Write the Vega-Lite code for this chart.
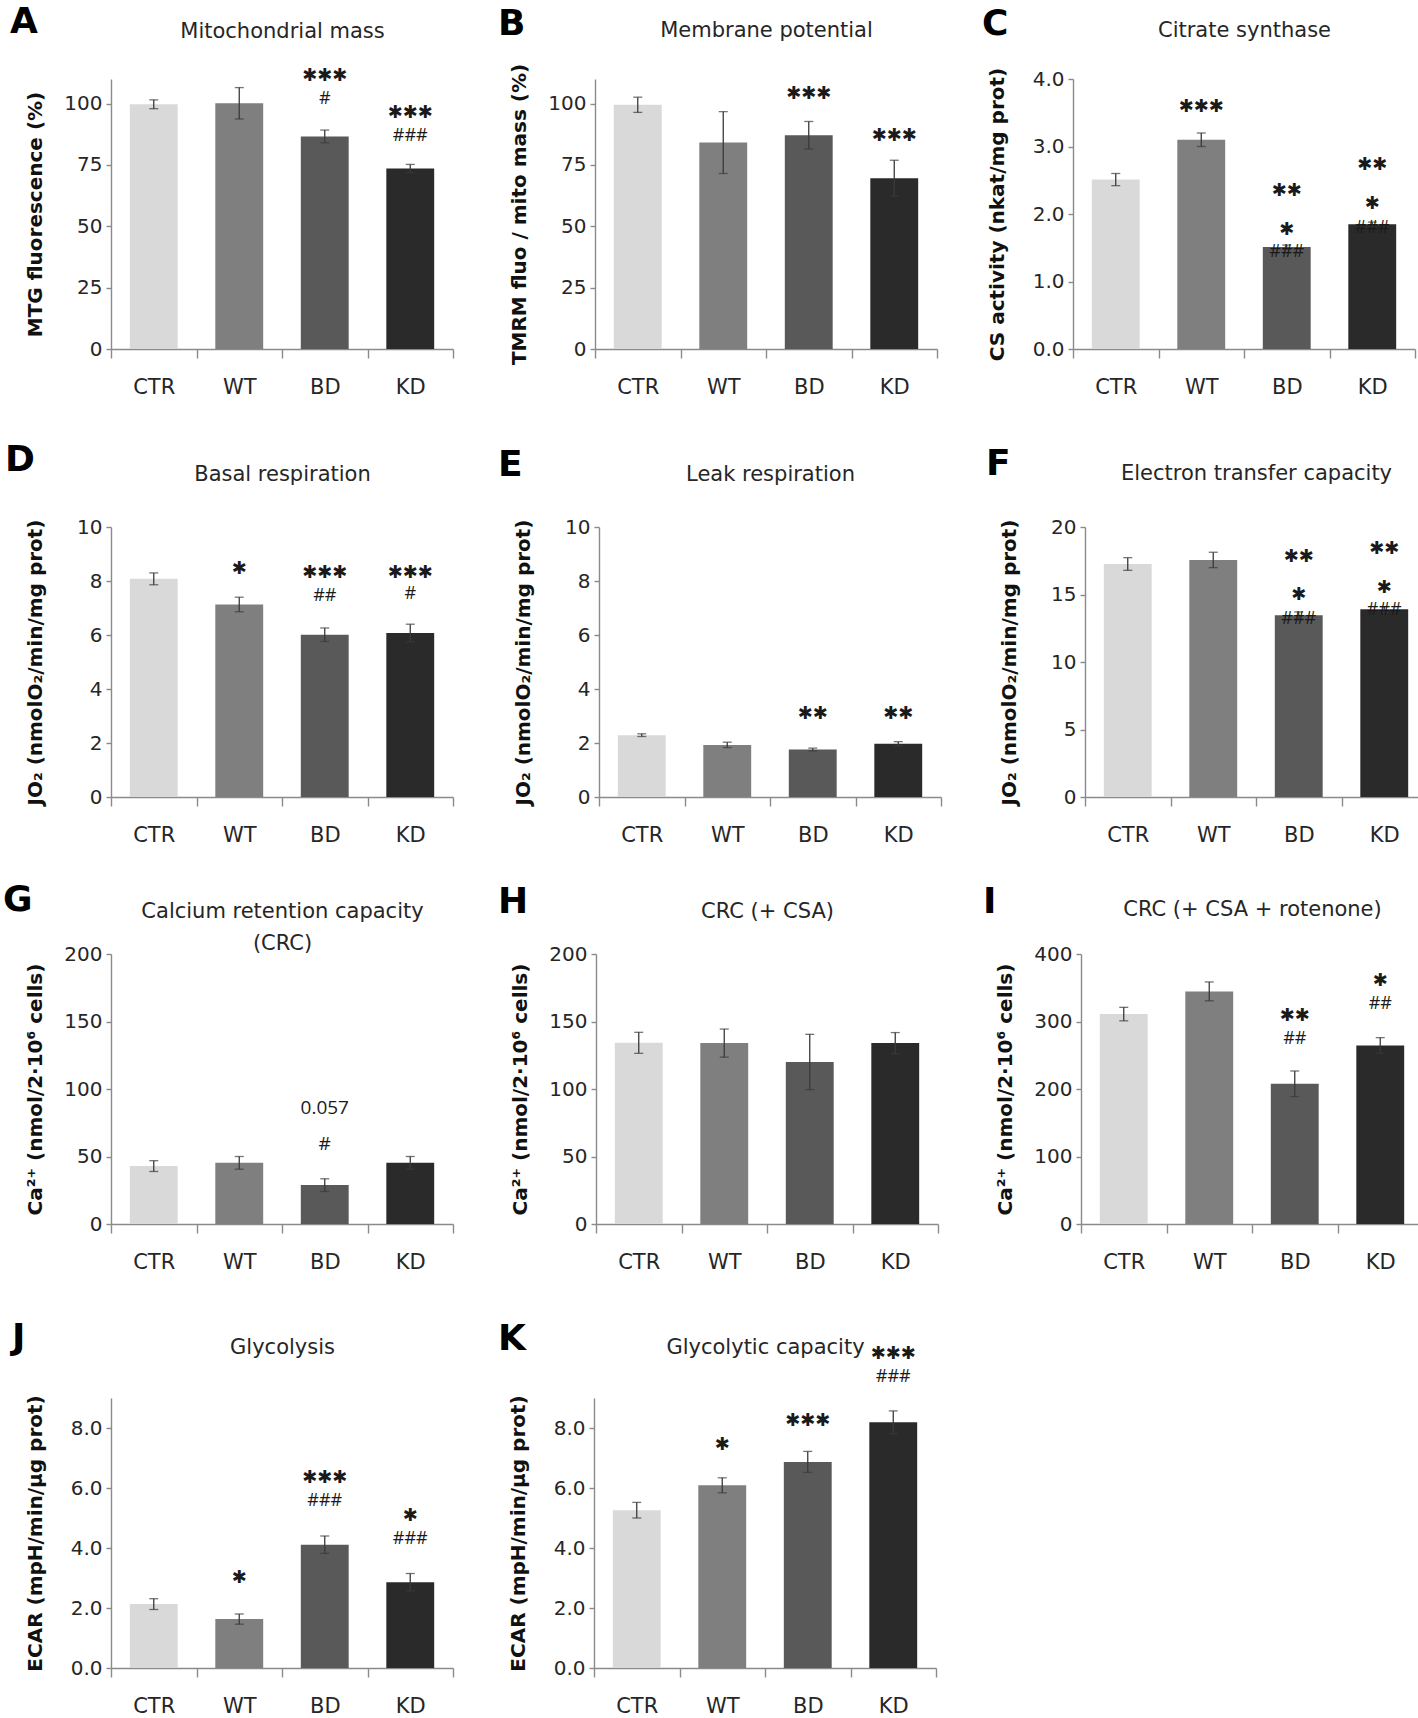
{
"$schema": "https://vega.github.io/schema/vega-lite/v6.json",
"background": "white",
"padding": {"left": 2, "top": 4, "right": 0, "bottom": 0},
"datasets": {
"bars": [
{"p":"A","g":"CTR","mean":99.7,"err":1.8},{"p":"A","g":"WT","mean":100.1,"err":6.4},{"p":"A","g":"BD","mean":86.6,"err":2.6},{"p":"A","g":"KD","mean":73.5,"err":1.7},
{"p":"B","g":"CTR","mean":99.5,"err":3.1},{"p":"B","g":"WT","mean":84.1,"err":12.6},{"p":"B","g":"BD","mean":87.1,"err":5.6},{"p":"B","g":"KD","mean":69.6,"err":7.3},
{"p":"C","g":"CTR","mean":2.51,"err":0.09},{"p":"C","g":"WT","mean":3.1,"err":0.1},{"p":"C","g":"BD","mean":1.51,"err":0.03},{"p":"C","g":"KD","mean":1.85,"err":0.03},
{"p":"D","g":"CTR","mean":8.08,"err":0.22},{"p":"D","g":"WT","mean":7.13,"err":0.27},{"p":"D","g":"BD","mean":6.01,"err":0.25},{"p":"D","g":"KD","mean":6.07,"err":0.33},
{"p":"E","g":"CTR","mean":2.29,"err":0.05},{"p":"E","g":"WT","mean":1.93,"err":0.1},{"p":"E","g":"BD","mean":1.76,"err":0.05},{"p":"E","g":"KD","mean":1.97,"err":0.08},
{"p":"F","g":"CTR","mean":17.26,"err":0.47},{"p":"F","g":"WT","mean":17.56,"err":0.57},{"p":"F","g":"BD","mean":13.46,"err":0.25},{"p":"F","g":"KD","mean":13.9,"err":0.2},
{"p":"G","g":"CTR","mean":42.9,"err":4},{"p":"G","g":"WT","mean":45.3,"err":4.7},{"p":"G","g":"BD","mean":28.8,"err":4.7},{"p":"G","g":"KD","mean":45.3,"err":4.7},
{"p":"H","g":"CTR","mean":134.2,"err":7.8},{"p":"H","g":"WT","mean":134,"err":10.4},{"p":"H","g":"BD","mean":120,"err":20.5},{"p":"H","g":"KD","mean":134,"err":7.8},
{"p":"I","g":"CTR","mean":311,"err":10},{"p":"I","g":"WT","mean":344.6,"err":14},{"p":"I","g":"BD","mean":207.7,"err":19},{"p":"I","g":"KD","mean":264.5,"err":11.6},
{"p":"J","g":"CTR","mean":2.13,"err":0.18},{"p":"J","g":"WT","mean":1.63,"err":0.17},{"p":"J","g":"BD","mean":4.11,"err":0.29},{"p":"J","g":"KD","mean":2.86,"err":0.29},
{"p":"K","g":"CTR","mean":5.26,"err":0.26},{"p":"K","g":"WT","mean":6.09,"err":0.25},{"p":"K","g":"BD","mean":6.87,"err":0.35},{"p":"K","g":"KD","mean":8.19,"err":0.38}
],
"notes": [
{"p":"A","g":"BD","t":"✱✱✱","y":111.3},{"p":"A","g":"BD","t":"#","y":102},{"p":"A","g":"KD","t":"✱✱✱","y":96.3},{"p":"A","g":"KD","t":"###","y":86.8},
{"p":"B","g":"BD","t":"✱✱✱","y":103.8},{"p":"B","g":"KD","t":"✱✱✱","y":86.8},
{"p":"C","g":"WT","t":"✱✱✱","y":3.59},{"p":"C","g":"BD","t":"✱✱","y":2.34},{"p":"C","g":"BD","t":"✱","y":1.76},{"p":"C","g":"BD","t":"###","y":1.43},{"p":"C","g":"KD","t":"✱✱","y":2.73},{"p":"C","g":"KD","t":"✱","y":2.15},{"p":"C","g":"KD","t":"###","y":1.8},
{"p":"D","g":"WT","t":"✱","y":8.43},{"p":"D","g":"BD","t":"✱✱✱","y":8.3},{"p":"D","g":"BD","t":"##","y":7.43},{"p":"D","g":"KD","t":"✱✱✱","y":8.3},{"p":"D","g":"KD","t":"#","y":7.53},
{"p":"E","g":"BD","t":"✱✱","y":3.06},{"p":"E","g":"KD","t":"✱✱","y":3.06},
{"p":"F","g":"BD","t":"✱✱","y":17.78},{"p":"F","g":"BD","t":"✱","y":14.94},{"p":"F","g":"BD","t":"###","y":13.2},{"p":"F","g":"KD","t":"✱✱","y":18.35},{"p":"F","g":"KD","t":"✱","y":15.48},{"p":"F","g":"KD","t":"###","y":13.83},
{"p":"G","g":"BD","t":"0.057","y":86.2},{"p":"G","g":"BD","t":"#","y":59.6},
{"p":"I","g":"BD","t":"✱✱","y":307.5},{"p":"I","g":"BD","t":"##","y":274},{"p":"I","g":"KD","t":"✱","y":360.4},{"p":"I","g":"KD","t":"##","y":325.8},
{"p":"J","g":"WT","t":"✱","y":3.0},{"p":"J","g":"BD","t":"✱✱✱","y":6.33},{"p":"J","g":"BD","t":"###","y":5.56},{"p":"J","g":"KD","t":"✱","y":5.06},{"p":"J","g":"KD","t":"###","y":4.3},
{"p":"K","g":"WT","t":"✱","y":7.42},{"p":"K","g":"BD","t":"✱✱✱","y":8.24},{"p":"K","g":"KD","t":"✱✱✱","y":10.47},{"p":"K","g":"KD","t":"###","y":9.69}
]
},
"vconcat": [
{"vconcat": [
{"hconcat": [
{"title": {"text": "A", "dx": -15, "dy": 25}, "width": 342, "height": 270, "resolve": {"axis": {"x": "independent"}},
 "layer": [
  {"data": {"name": "bars"}, "transform": [{"filter": "datum.p === 'A'"}], "mark": {"type": "bar", "width": {"band": 0.56}},
   "encoding": {"x": {"field": "g", "type": "nominal", "sort": ["CTR","WT","BD","KD"], "scale": {"paddingInner": 0, "paddingOuter": 0}, "axis": {"orient": "bottom", "title": null}},
    "y": {"field": "mean", "type": "quantitative", "title": "MTG fluorescence (%)", "scale": {"domain": [0,110], "nice": false}, "axis": {"values": [0,25,50,75,100]}},
    "color": {"field": "g", "type": "nominal", "scale": {"domain": ["CTR","WT","BD","KD"], "range": ["#d9d9d9","#7f7f7f","#595959","#2a2a2a"]}, "legend": null}}},
  {"data": {"name": "bars"}, "transform": [{"filter": "datum.p === 'A'"}], "mark": {"type": "errorbar", "ticks": true, "size": 9, "thickness": 1.3, "color": "#3a3a3a"},
   "encoding": {"x": {"field": "g", "type": "nominal", "sort": ["CTR","WT","BD","KD"], "axis": null}, "y": {"field": "mean", "type": "quantitative", "title": "MTG fluorescence (%)", "scale": {"domain": [0,110], "nice": false}}, "yError": {"field": "err"}}},
  {"data": {"name": "bars"}, "transform": [{"filter": "datum.p === 'A'"}], "mark": {"type": "tick", "opacity": 0},
   "encoding": {"x": {"field": "g", "type": "nominal", "sort": ["CTR","WT","BD","KD"], "axis": {"orient": "top", "title": "Mitochondrial mass", "titleY": -42}}, "y": {"field": "mean", "type": "quantitative", "title": "MTG fluorescence (%)", "scale": {"domain": [0,110], "nice": false}}}},
  {"data": {"name": "notes"}, "transform": [{"filter": "datum.p === 'A' && indexof(datum.t, '✱') >= 0"}], "mark": {"type": "text", "font": "DejaVu Sans", "fontSize": 18, "baseline": "middle", "color": "#1a1a1a"},
   "encoding": {"x": {"field": "g", "type": "nominal", "sort": ["CTR","WT","BD","KD"], "axis": null}, "y": {"field": "y", "type": "quantitative", "title": "MTG fluorescence (%)", "scale": {"domain": [0,110], "nice": false}}, "text": {"field": "t"}}},
  {"data": {"name": "notes"}, "transform": [{"filter": "datum.p === 'A' && indexof(datum.t, '✱') < 0"}], "mark": {"type": "text", "font": "Open Sans", "fontSize": 18, "baseline": "middle", "color": "#1a1a1a"},
   "encoding": {"x": {"field": "g", "type": "nominal", "sort": ["CTR","WT","BD","KD"], "axis": null}, "y": {"field": "y", "type": "quantitative", "title": "MTG fluorescence (%)", "scale": {"domain": [0,110], "nice": false}}, "text": {"field": "t"}}}
 ]},
{"title": {"text": "B", "dx": -11, "dy": 28}, "width": 342, "height": 270, "resolve": {"axis": {"x": "independent"}},
 "layer": [
  {"data": {"name": "bars"}, "transform": [{"filter": "datum.p === 'B'"}], "mark": {"type": "bar", "width": {"band": 0.56}},
   "encoding": {"x": {"field": "g", "type": "nominal", "sort": ["CTR","WT","BD","KD"], "scale": {"paddingInner": 0, "paddingOuter": 0}, "axis": {"orient": "bottom", "title": null}},
    "y": {"field": "mean", "type": "quantitative", "title": "TMRM fluo / mito mass (%)", "scale": {"domain": [0,110], "nice": false}, "axis": {"values": [0,25,50,75,100]}},
    "color": {"field": "g", "type": "nominal", "scale": {"domain": ["CTR","WT","BD","KD"], "range": ["#d9d9d9","#7f7f7f","#595959","#2a2a2a"]}, "legend": null}}},
  {"data": {"name": "bars"}, "transform": [{"filter": "datum.p === 'B'"}], "mark": {"type": "errorbar", "ticks": true, "size": 9, "thickness": 1.3, "color": "#3a3a3a"},
   "encoding": {"x": {"field": "g", "type": "nominal", "sort": ["CTR","WT","BD","KD"], "axis": null}, "y": {"field": "mean", "type": "quantitative", "title": "TMRM fluo / mito mass (%)", "scale": {"domain": [0,110], "nice": false}}, "yError": {"field": "err"}}},
  {"data": {"name": "bars"}, "transform": [{"filter": "datum.p === 'B'"}], "mark": {"type": "tick", "opacity": 0},
   "encoding": {"x": {"field": "g", "type": "nominal", "sort": ["CTR","WT","BD","KD"], "axis": {"orient": "top", "title": "Membrane potential", "titleY": -43}}, "y": {"field": "mean", "type": "quantitative", "title": "TMRM fluo / mito mass (%)", "scale": {"domain": [0,110], "nice": false}}}},
  {"data": {"name": "notes"}, "transform": [{"filter": "datum.p === 'B' && indexof(datum.t, '✱') >= 0"}], "mark": {"type": "text", "font": "DejaVu Sans", "fontSize": 18, "baseline": "middle", "color": "#1a1a1a"},
   "encoding": {"x": {"field": "g", "type": "nominal", "sort": ["CTR","WT","BD","KD"], "axis": null}, "y": {"field": "y", "type": "quantitative", "title": "TMRM fluo / mito mass (%)", "scale": {"domain": [0,110], "nice": false}}, "text": {"field": "t"}}},
  {"data": {"name": "notes"}, "transform": [{"filter": "datum.p === 'B' && indexof(datum.t, '✱') < 0"}], "mark": {"type": "text", "font": "Open Sans", "fontSize": 18, "baseline": "middle", "color": "#1a1a1a"},
   "encoding": {"x": {"field": "g", "type": "nominal", "sort": ["CTR","WT","BD","KD"], "axis": null}, "y": {"field": "y", "type": "quantitative", "title": "TMRM fluo / mito mass (%)", "scale": {"domain": [0,110], "nice": false}}, "text": {"field": "t"}}}
 ]},
{"title": {"text": "C", "dx": -5, "dy": 28}, "width": 342, "height": 270, "resolve": {"axis": {"x": "independent"}},
 "layer": [
  {"data": {"name": "bars"}, "transform": [{"filter": "datum.p === 'C'"}], "mark": {"type": "bar", "width": {"band": 0.56}},
   "encoding": {"x": {"field": "g", "type": "nominal", "sort": ["CTR","WT","BD","KD"], "scale": {"paddingInner": 0, "paddingOuter": 0}, "axis": {"orient": "bottom", "title": null}},
    "y": {"field": "mean", "type": "quantitative", "title": "CS activity (nkat/mg prot)", "scale": {"domain": [0,4], "nice": false}, "axis": {"values": [0,1,2,3,4], "format": ".1f"}},
    "color": {"field": "g", "type": "nominal", "scale": {"domain": ["CTR","WT","BD","KD"], "range": ["#d9d9d9","#7f7f7f","#595959","#2a2a2a"]}, "legend": null}}},
  {"data": {"name": "bars"}, "transform": [{"filter": "datum.p === 'C'"}], "mark": {"type": "errorbar", "ticks": true, "size": 9, "thickness": 1.3, "color": "#3a3a3a"},
   "encoding": {"x": {"field": "g", "type": "nominal", "sort": ["CTR","WT","BD","KD"], "axis": null}, "y": {"field": "mean", "type": "quantitative", "title": "CS activity (nkat/mg prot)", "scale": {"domain": [0,4], "nice": false}}, "yError": {"field": "err"}}},
  {"data": {"name": "bars"}, "transform": [{"filter": "datum.p === 'C'"}], "mark": {"type": "tick", "opacity": 0},
   "encoding": {"x": {"field": "g", "type": "nominal", "sort": ["CTR","WT","BD","KD"], "axis": {"orient": "top", "title": "Citrate synthase", "titleY": -43}}, "y": {"field": "mean", "type": "quantitative", "title": "CS activity (nkat/mg prot)", "scale": {"domain": [0,4], "nice": false}}}},
  {"data": {"name": "notes"}, "transform": [{"filter": "datum.p === 'C' && indexof(datum.t, '✱') >= 0"}], "mark": {"type": "text", "font": "DejaVu Sans", "fontSize": 18, "baseline": "middle", "color": "#1a1a1a"},
   "encoding": {"x": {"field": "g", "type": "nominal", "sort": ["CTR","WT","BD","KD"], "axis": null}, "y": {"field": "y", "type": "quantitative", "title": "CS activity (nkat/mg prot)", "scale": {"domain": [0,4], "nice": false}}, "text": {"field": "t"}}},
  {"data": {"name": "notes"}, "transform": [{"filter": "datum.p === 'C' && indexof(datum.t, '✱') < 0"}], "mark": {"type": "text", "font": "Open Sans", "fontSize": 18, "baseline": "middle", "color": "#1a1a1a"},
   "encoding": {"x": {"field": "g", "type": "nominal", "sort": ["CTR","WT","BD","KD"], "axis": null}, "y": {"field": "y", "type": "quantitative", "title": "CS activity (nkat/mg prot)", "scale": {"domain": [0,4], "nice": false}}, "text": {"field": "t"}}}
 ]}
], "spacing": 43},
{"hconcat": [
{"title": {"text": "D", "dx": -20, "dy": 20}, "width": 342, "height": 270, "resolve": {"axis": {"x": "independent"}},
 "layer": [
  {"data": {"name": "bars"}, "transform": [{"filter": "datum.p === 'D'"}], "mark": {"type": "bar", "width": {"band": 0.56}},
   "encoding": {"x": {"field": "g", "type": "nominal", "sort": ["CTR","WT","BD","KD"], "scale": {"paddingInner": 0, "paddingOuter": 0}, "axis": {"orient": "bottom", "title": null}},
    "y": {"field": "mean", "type": "quantitative", "title": "JO₂ (nmolO₂/min/mg prot)", "scale": {"domain": [0,10], "nice": false}, "axis": {"values": [0,2,4,6,8,10]}},
    "color": {"field": "g", "type": "nominal", "scale": {"domain": ["CTR","WT","BD","KD"], "range": ["#d9d9d9","#7f7f7f","#595959","#2a2a2a"]}, "legend": null}}},
  {"data": {"name": "bars"}, "transform": [{"filter": "datum.p === 'D'"}], "mark": {"type": "errorbar", "ticks": true, "size": 9, "thickness": 1.3, "color": "#3a3a3a"},
   "encoding": {"x": {"field": "g", "type": "nominal", "sort": ["CTR","WT","BD","KD"], "axis": null}, "y": {"field": "mean", "type": "quantitative", "title": "JO₂ (nmolO₂/min/mg prot)", "scale": {"domain": [0,10], "nice": false}}, "yError": {"field": "err"}}},
  {"data": {"name": "bars"}, "transform": [{"filter": "datum.p === 'D'"}], "mark": {"type": "tick", "opacity": 0},
   "encoding": {"x": {"field": "g", "type": "nominal", "sort": ["CTR","WT","BD","KD"], "axis": {"orient": "top", "title": "Basal respiration", "titleY": -47}}, "y": {"field": "mean", "type": "quantitative", "title": "JO₂ (nmolO₂/min/mg prot)", "scale": {"domain": [0,10], "nice": false}}}},
  {"data": {"name": "notes"}, "transform": [{"filter": "datum.p === 'D' && indexof(datum.t, '✱') >= 0"}], "mark": {"type": "text", "font": "DejaVu Sans", "fontSize": 18, "baseline": "middle", "color": "#1a1a1a"},
   "encoding": {"x": {"field": "g", "type": "nominal", "sort": ["CTR","WT","BD","KD"], "axis": null}, "y": {"field": "y", "type": "quantitative", "title": "JO₂ (nmolO₂/min/mg prot)", "scale": {"domain": [0,10], "nice": false}}, "text": {"field": "t"}}},
  {"data": {"name": "notes"}, "transform": [{"filter": "datum.p === 'D' && indexof(datum.t, '✱') < 0"}], "mark": {"type": "text", "font": "Open Sans", "fontSize": 18, "baseline": "middle", "color": "#1a1a1a"},
   "encoding": {"x": {"field": "g", "type": "nominal", "sort": ["CTR","WT","BD","KD"], "axis": null}, "y": {"field": "y", "type": "quantitative", "title": "JO₂ (nmolO₂/min/mg prot)", "scale": {"domain": [0,10], "nice": false}}, "text": {"field": "t"}}}
 ]},
{"title": {"text": "E", "dx": -15, "dy": 25}, "width": 342, "height": 270, "resolve": {"axis": {"x": "independent"}},
 "layer": [
  {"data": {"name": "bars"}, "transform": [{"filter": "datum.p === 'E'"}], "mark": {"type": "bar", "width": {"band": 0.56}},
   "encoding": {"x": {"field": "g", "type": "nominal", "sort": ["CTR","WT","BD","KD"], "scale": {"paddingInner": 0, "paddingOuter": 0}, "axis": {"orient": "bottom", "title": null}},
    "y": {"field": "mean", "type": "quantitative", "title": "JO₂ (nmolO₂/min/mg prot)", "scale": {"domain": [0,10], "nice": false}, "axis": {"values": [0,2,4,6,8,10]}},
    "color": {"field": "g", "type": "nominal", "scale": {"domain": ["CTR","WT","BD","KD"], "range": ["#d9d9d9","#7f7f7f","#595959","#2a2a2a"]}, "legend": null}}},
  {"data": {"name": "bars"}, "transform": [{"filter": "datum.p === 'E'"}], "mark": {"type": "errorbar", "ticks": true, "size": 9, "thickness": 1.3, "color": "#3a3a3a"},
   "encoding": {"x": {"field": "g", "type": "nominal", "sort": ["CTR","WT","BD","KD"], "axis": null}, "y": {"field": "mean", "type": "quantitative", "title": "JO₂ (nmolO₂/min/mg prot)", "scale": {"domain": [0,10], "nice": false}}, "yError": {"field": "err"}}},
  {"data": {"name": "bars"}, "transform": [{"filter": "datum.p === 'E'"}], "mark": {"type": "tick", "opacity": 0},
   "encoding": {"x": {"field": "g", "type": "nominal", "sort": ["CTR","WT","BD","KD"], "axis": {"orient": "top", "title": "Leak respiration", "titleY": -47}}, "y": {"field": "mean", "type": "quantitative", "title": "JO₂ (nmolO₂/min/mg prot)", "scale": {"domain": [0,10], "nice": false}}}},
  {"data": {"name": "notes"}, "transform": [{"filter": "datum.p === 'E' && indexof(datum.t, '✱') >= 0"}], "mark": {"type": "text", "font": "DejaVu Sans", "fontSize": 18, "baseline": "middle", "color": "#1a1a1a"},
   "encoding": {"x": {"field": "g", "type": "nominal", "sort": ["CTR","WT","BD","KD"], "axis": null}, "y": {"field": "y", "type": "quantitative", "title": "JO₂ (nmolO₂/min/mg prot)", "scale": {"domain": [0,10], "nice": false}}, "text": {"field": "t"}}},
  {"data": {"name": "notes"}, "transform": [{"filter": "datum.p === 'E' && indexof(datum.t, '✱') < 0"}], "mark": {"type": "text", "font": "Open Sans", "fontSize": 18, "baseline": "middle", "color": "#1a1a1a"},
   "encoding": {"x": {"field": "g", "type": "nominal", "sort": ["CTR","WT","BD","KD"], "axis": null}, "y": {"field": "y", "type": "quantitative", "title": "JO₂ (nmolO₂/min/mg prot)", "scale": {"domain": [0,10], "nice": false}}, "text": {"field": "t"}}}
 ]},
{"title": {"text": "F", "dx": -13, "dy": 25}, "width": 342, "height": 270, "resolve": {"axis": {"x": "independent"}},
 "layer": [
  {"data": {"name": "bars"}, "transform": [{"filter": "datum.p === 'F'"}], "mark": {"type": "bar", "width": {"band": 0.56}},
   "encoding": {"x": {"field": "g", "type": "nominal", "sort": ["CTR","WT","BD","KD"], "scale": {"paddingInner": 0, "paddingOuter": 0}, "axis": {"orient": "bottom", "title": null}},
    "y": {"field": "mean", "type": "quantitative", "title": "JO₂ (nmolO₂/min/mg prot)", "scale": {"domain": [0,20], "nice": false}, "axis": {"values": [0,5,10,15,20]}},
    "color": {"field": "g", "type": "nominal", "scale": {"domain": ["CTR","WT","BD","KD"], "range": ["#d9d9d9","#7f7f7f","#595959","#2a2a2a"]}, "legend": null}}},
  {"data": {"name": "bars"}, "transform": [{"filter": "datum.p === 'F'"}], "mark": {"type": "errorbar", "ticks": true, "size": 9, "thickness": 1.3, "color": "#3a3a3a"},
   "encoding": {"x": {"field": "g", "type": "nominal", "sort": ["CTR","WT","BD","KD"], "axis": null}, "y": {"field": "mean", "type": "quantitative", "title": "JO₂ (nmolO₂/min/mg prot)", "scale": {"domain": [0,20], "nice": false}}, "yError": {"field": "err"}}},
  {"data": {"name": "bars"}, "transform": [{"filter": "datum.p === 'F'"}], "mark": {"type": "tick", "opacity": 0},
   "encoding": {"x": {"field": "g", "type": "nominal", "sort": ["CTR","WT","BD","KD"], "axis": {"orient": "top", "title": "Electron transfer capacity", "titleY": -48}}, "y": {"field": "mean", "type": "quantitative", "title": "JO₂ (nmolO₂/min/mg prot)", "scale": {"domain": [0,20], "nice": false}}}},
  {"data": {"name": "notes"}, "transform": [{"filter": "datum.p === 'F' && indexof(datum.t, '✱') >= 0"}], "mark": {"type": "text", "font": "DejaVu Sans", "fontSize": 18, "baseline": "middle", "color": "#1a1a1a"},
   "encoding": {"x": {"field": "g", "type": "nominal", "sort": ["CTR","WT","BD","KD"], "axis": null}, "y": {"field": "y", "type": "quantitative", "title": "JO₂ (nmolO₂/min/mg prot)", "scale": {"domain": [0,20], "nice": false}}, "text": {"field": "t"}}},
  {"data": {"name": "notes"}, "transform": [{"filter": "datum.p === 'F' && indexof(datum.t, '✱') < 0"}], "mark": {"type": "text", "font": "Open Sans", "fontSize": 18, "baseline": "middle", "color": "#1a1a1a"},
   "encoding": {"x": {"field": "g", "type": "nominal", "sort": ["CTR","WT","BD","KD"], "axis": null}, "y": {"field": "y", "type": "quantitative", "title": "JO₂ (nmolO₂/min/mg prot)", "scale": {"domain": [0,20], "nice": false}}, "text": {"field": "t"}}}
 ]}
], "spacing": 43}
], "spacing": 45},
{"vconcat": [
{"hconcat": [
{"title": {"text": "G", "dx": -22, "dy": 23}, "width": 342, "height": 270, "resolve": {"axis": {"x": "independent"}},
 "layer": [
  {"data": {"name": "bars"}, "transform": [{"filter": "datum.p === 'G'"}], "mark": {"type": "bar", "width": {"band": 0.56}},
   "encoding": {"x": {"field": "g", "type": "nominal", "sort": ["CTR","WT","BD","KD"], "scale": {"paddingInner": 0, "paddingOuter": 0}, "axis": {"orient": "bottom", "title": null}},
    "y": {"field": "mean", "type": "quantitative", "title": "Ca²⁺ (nmol/2·10⁶ cells)", "scale": {"domain": [0,200], "nice": false}, "axis": {"values": [0,50,100,150,200]}},
    "color": {"field": "g", "type": "nominal", "scale": {"domain": ["CTR","WT","BD","KD"], "range": ["#d9d9d9","#7f7f7f","#595959","#2a2a2a"]}, "legend": null}}},
  {"data": {"name": "bars"}, "transform": [{"filter": "datum.p === 'G'"}], "mark": {"type": "errorbar", "ticks": true, "size": 9, "thickness": 1.3, "color": "#3a3a3a"},
   "encoding": {"x": {"field": "g", "type": "nominal", "sort": ["CTR","WT","BD","KD"], "axis": null}, "y": {"field": "mean", "type": "quantitative", "title": "Ca²⁺ (nmol/2·10⁶ cells)", "scale": {"domain": [0,200], "nice": false}}, "yError": {"field": "err"}}},
  {"data": {"name": "bars"}, "transform": [{"filter": "datum.p === 'G'"}], "mark": {"type": "tick", "opacity": 0},
   "encoding": {"x": {"field": "g", "type": "nominal", "sort": ["CTR","WT","BD","KD"], "axis": {"orient": "top", "title": ["Calcium retention capacity", "(CRC)"], "titleY": -37}}, "y": {"field": "mean", "type": "quantitative", "title": "Ca²⁺ (nmol/2·10⁶ cells)", "scale": {"domain": [0,200], "nice": false}}}},
  {"data": {"name": "notes"}, "transform": [{"filter": "datum.p === 'G' && indexof(datum.t, '✱') >= 0"}], "mark": {"type": "text", "font": "DejaVu Sans", "fontSize": 18, "baseline": "middle", "color": "#1a1a1a"},
   "encoding": {"x": {"field": "g", "type": "nominal", "sort": ["CTR","WT","BD","KD"], "axis": null}, "y": {"field": "y", "type": "quantitative", "title": "Ca²⁺ (nmol/2·10⁶ cells)", "scale": {"domain": [0,200], "nice": false}}, "text": {"field": "t"}}},
  {"data": {"name": "notes"}, "transform": [{"filter": "datum.p === 'G' && indexof(datum.t, '✱') < 0"}], "mark": {"type": "text", "font": "Open Sans", "fontSize": 19, "baseline": "middle", "color": "#1a1a1a"},
   "encoding": {"x": {"field": "g", "type": "nominal", "sort": ["CTR","WT","BD","KD"], "axis": null}, "y": {"field": "y", "type": "quantitative", "title": "Ca²⁺ (nmol/2·10⁶ cells)", "scale": {"domain": [0,200], "nice": false}}, "text": {"field": "t"}}}
 ]},
{"title": {"text": "H", "dx": -12, "dy": 25}, "width": 342, "height": 270, "resolve": {"axis": {"x": "independent"}},
 "layer": [
  {"data": {"name": "bars"}, "transform": [{"filter": "datum.p === 'H'"}], "mark": {"type": "bar", "width": {"band": 0.56}},
   "encoding": {"x": {"field": "g", "type": "nominal", "sort": ["CTR","WT","BD","KD"], "scale": {"paddingInner": 0, "paddingOuter": 0}, "axis": {"orient": "bottom", "title": null}},
    "y": {"field": "mean", "type": "quantitative", "title": "Ca²⁺ (nmol/2·10⁶ cells)", "scale": {"domain": [0,200], "nice": false}, "axis": {"values": [0,50,100,150,200]}},
    "color": {"field": "g", "type": "nominal", "scale": {"domain": ["CTR","WT","BD","KD"], "range": ["#d9d9d9","#7f7f7f","#595959","#2a2a2a"]}, "legend": null}}},
  {"data": {"name": "bars"}, "transform": [{"filter": "datum.p === 'H'"}], "mark": {"type": "errorbar", "ticks": true, "size": 9, "thickness": 1.3, "color": "#3a3a3a"},
   "encoding": {"x": {"field": "g", "type": "nominal", "sort": ["CTR","WT","BD","KD"], "axis": null}, "y": {"field": "mean", "type": "quantitative", "title": "Ca²⁺ (nmol/2·10⁶ cells)", "scale": {"domain": [0,200], "nice": false}}, "yError": {"field": "err"}}},
  {"data": {"name": "bars"}, "transform": [{"filter": "datum.p === 'H'"}], "mark": {"type": "tick", "opacity": 0},
   "encoding": {"x": {"field": "g", "type": "nominal", "sort": ["CTR","WT","BD","KD"], "axis": {"orient": "top", "title": "CRC (+ CSA)", "titleY": -37}}, "y": {"field": "mean", "type": "quantitative", "title": "Ca²⁺ (nmol/2·10⁶ cells)", "scale": {"domain": [0,200], "nice": false}}}}
 ]},
{"title": {"text": "I", "dx": -12, "dy": 27}, "width": 342, "height": 270, "resolve": {"axis": {"x": "independent"}},
 "layer": [
  {"data": {"name": "bars"}, "transform": [{"filter": "datum.p === 'I'"}], "mark": {"type": "bar", "width": {"band": 0.56}},
   "encoding": {"x": {"field": "g", "type": "nominal", "sort": ["CTR","WT","BD","KD"], "scale": {"paddingInner": 0, "paddingOuter": 0}, "axis": {"orient": "bottom", "title": null}},
    "y": {"field": "mean", "type": "quantitative", "title": "Ca²⁺ (nmol/2·10⁶ cells)", "scale": {"domain": [0,400], "nice": false}, "axis": {"values": [0,100,200,300,400]}},
    "color": {"field": "g", "type": "nominal", "scale": {"domain": ["CTR","WT","BD","KD"], "range": ["#d9d9d9","#7f7f7f","#595959","#2a2a2a"]}, "legend": null}}},
  {"data": {"name": "bars"}, "transform": [{"filter": "datum.p === 'I'"}], "mark": {"type": "errorbar", "ticks": true, "size": 9, "thickness": 1.3, "color": "#3a3a3a"},
   "encoding": {"x": {"field": "g", "type": "nominal", "sort": ["CTR","WT","BD","KD"], "axis": null}, "y": {"field": "mean", "type": "quantitative", "title": "Ca²⁺ (nmol/2·10⁶ cells)", "scale": {"domain": [0,400], "nice": false}}, "yError": {"field": "err"}}},
  {"data": {"name": "bars"}, "transform": [{"filter": "datum.p === 'I'"}], "mark": {"type": "tick", "opacity": 0},
   "encoding": {"x": {"field": "g", "type": "nominal", "sort": ["CTR","WT","BD","KD"], "axis": {"orient": "top", "title": "CRC (+ CSA + rotenone)", "titleY": -39}}, "y": {"field": "mean", "type": "quantitative", "title": "Ca²⁺ (nmol/2·10⁶ cells)", "scale": {"domain": [0,400], "nice": false}}}},
  {"data": {"name": "notes"}, "transform": [{"filter": "datum.p === 'I' && indexof(datum.t, '✱') >= 0"}], "mark": {"type": "text", "font": "DejaVu Sans", "fontSize": 18, "baseline": "middle", "color": "#1a1a1a"},
   "encoding": {"x": {"field": "g", "type": "nominal", "sort": ["CTR","WT","BD","KD"], "axis": null}, "y": {"field": "y", "type": "quantitative", "title": "Ca²⁺ (nmol/2·10⁶ cells)", "scale": {"domain": [0,400], "nice": false}}, "text": {"field": "t"}}},
  {"data": {"name": "notes"}, "transform": [{"filter": "datum.p === 'I' && indexof(datum.t, '✱') < 0"}], "mark": {"type": "text", "font": "Open Sans", "fontSize": 18, "baseline": "middle", "color": "#1a1a1a"},
   "encoding": {"x": {"field": "g", "type": "nominal", "sort": ["CTR","WT","BD","KD"], "axis": null}, "y": {"field": "y", "type": "quantitative", "title": "Ca²⁺ (nmol/2·10⁶ cells)", "scale": {"domain": [0,400], "nice": false}}, "text": {"field": "t"}}}
 ]}
], "spacing": 43},
{"hconcat": [
{"title": {"text": "J", "dx": -13, "dy": 25}, "width": 342, "height": 270, "resolve": {"axis": {"x": "independent"}},
 "layer": [
  {"data": {"name": "bars"}, "transform": [{"filter": "datum.p === 'J'"}], "mark": {"type": "bar", "width": {"band": 0.56}},
   "encoding": {"x": {"field": "g", "type": "nominal", "sort": ["CTR","WT","BD","KD"], "scale": {"paddingInner": 0, "paddingOuter": 0}, "axis": {"orient": "bottom", "title": null}},
    "y": {"field": "mean", "type": "quantitative", "title": "ECAR (mpH/min/µg prot)", "scale": {"domain": [0,9], "nice": false}, "axis": {"values": [0,2,4,6,8], "format": ".1f"}},
    "color": {"field": "g", "type": "nominal", "scale": {"domain": ["CTR","WT","BD","KD"], "range": ["#d9d9d9","#7f7f7f","#595959","#2a2a2a"]}, "legend": null}}},
  {"data": {"name": "bars"}, "transform": [{"filter": "datum.p === 'J'"}], "mark": {"type": "errorbar", "ticks": true, "size": 9, "thickness": 1.3, "color": "#3a3a3a"},
   "encoding": {"x": {"field": "g", "type": "nominal", "sort": ["CTR","WT","BD","KD"], "axis": null}, "y": {"field": "mean", "type": "quantitative", "title": "ECAR (mpH/min/µg prot)", "scale": {"domain": [0,9], "nice": false}}, "yError": {"field": "err"}}},
  {"data": {"name": "bars"}, "transform": [{"filter": "datum.p === 'J'"}], "mark": {"type": "tick", "opacity": 0},
   "encoding": {"x": {"field": "g", "type": "nominal", "sort": ["CTR","WT","BD","KD"], "axis": {"orient": "top", "title": "Glycolysis", "titleY": -45}}, "y": {"field": "mean", "type": "quantitative", "title": "ECAR (mpH/min/µg prot)", "scale": {"domain": [0,9], "nice": false}}}},
  {"data": {"name": "notes"}, "transform": [{"filter": "datum.p === 'J' && indexof(datum.t, '✱') >= 0"}], "mark": {"type": "text", "font": "DejaVu Sans", "fontSize": 18, "baseline": "middle", "color": "#1a1a1a"},
   "encoding": {"x": {"field": "g", "type": "nominal", "sort": ["CTR","WT","BD","KD"], "axis": null}, "y": {"field": "y", "type": "quantitative", "title": "ECAR (mpH/min/µg prot)", "scale": {"domain": [0,9], "nice": false}}, "text": {"field": "t"}}},
  {"data": {"name": "notes"}, "transform": [{"filter": "datum.p === 'J' && indexof(datum.t, '✱') < 0"}], "mark": {"type": "text", "font": "Open Sans", "fontSize": 18, "baseline": "middle", "color": "#1a1a1a"},
   "encoding": {"x": {"field": "g", "type": "nominal", "sort": ["CTR","WT","BD","KD"], "axis": null}, "y": {"field": "y", "type": "quantitative", "title": "ECAR (mpH/min/µg prot)", "scale": {"domain": [0,9], "nice": false}}, "text": {"field": "t"}}}
 ]},
{"title": {"text": "K", "dx": -10, "dy": 26}, "width": 342, "height": 270, "resolve": {"axis": {"x": "independent"}},
 "layer": [
  {"data": {"name": "bars"}, "transform": [{"filter": "datum.p === 'K'"}], "mark": {"type": "bar", "width": {"band": 0.56}},
   "encoding": {"x": {"field": "g", "type": "nominal", "sort": ["CTR","WT","BD","KD"], "scale": {"paddingInner": 0, "paddingOuter": 0}, "axis": {"orient": "bottom", "title": null}},
    "y": {"field": "mean", "type": "quantitative", "title": "ECAR (mpH/min/µg prot)", "scale": {"domain": [0,9], "nice": false}, "axis": {"values": [0,2,4,6,8], "format": ".1f"}},
    "color": {"field": "g", "type": "nominal", "scale": {"domain": ["CTR","WT","BD","KD"], "range": ["#d9d9d9","#7f7f7f","#595959","#2a2a2a"]}, "legend": null}}},
  {"data": {"name": "bars"}, "transform": [{"filter": "datum.p === 'K'"}], "mark": {"type": "errorbar", "ticks": true, "size": 9, "thickness": 1.3, "color": "#3a3a3a"},
   "encoding": {"x": {"field": "g", "type": "nominal", "sort": ["CTR","WT","BD","KD"], "axis": null}, "y": {"field": "mean", "type": "quantitative", "title": "ECAR (mpH/min/µg prot)", "scale": {"domain": [0,9], "nice": false}}, "yError": {"field": "err"}}},
  {"data": {"name": "bars"}, "transform": [{"filter": "datum.p === 'K'"}], "mark": {"type": "tick", "opacity": 0},
   "encoding": {"x": {"field": "g", "type": "nominal", "sort": ["CTR","WT","BD","KD"], "axis": {"orient": "top", "title": "Glycolytic capacity", "titleY": -45}}, "y": {"field": "mean", "type": "quantitative", "title": "ECAR (mpH/min/µg prot)", "scale": {"domain": [0,9], "nice": false}}}},
  {"data": {"name": "notes"}, "transform": [{"filter": "datum.p === 'K' && indexof(datum.t, '✱') >= 0"}], "mark": {"type": "text", "font": "DejaVu Sans", "fontSize": 18, "baseline": "middle", "color": "#1a1a1a"},
   "encoding": {"x": {"field": "g", "type": "nominal", "sort": ["CTR","WT","BD","KD"], "axis": null}, "y": {"field": "y", "type": "quantitative", "title": "ECAR (mpH/min/µg prot)", "scale": {"domain": [0,9], "nice": false}}, "text": {"field": "t"}}},
  {"data": {"name": "notes"}, "transform": [{"filter": "datum.p === 'K' && indexof(datum.t, '✱') < 0"}], "mark": {"type": "text", "font": "Open Sans", "fontSize": 18, "baseline": "middle", "color": "#1a1a1a"},
   "encoding": {"x": {"field": "g", "type": "nominal", "sort": ["CTR","WT","BD","KD"], "axis": null}, "y": {"field": "y", "type": "quantitative", "title": "ECAR (mpH/min/µg prot)", "scale": {"domain": [0,9], "nice": false}}, "text": {"field": "t"}}}
 ]}
], "spacing": 43}
], "spacing": 48}
],
"spacing": 37,
"config": {
 "font": "DejaVu Sans",
 "view": {"stroke": null},
 "axis": {"domainColor": "#8a8a8a", "domainWidth": 1.4, "tickColor": "#8a8a8a", "tickWidth": 1.4, "labelColor": "#262626", "labelFont": "DejaVu Sans", "titleFont": "DejaVu Sans", "grid": false},
 "axisY": {"tickSize": 5, "labelFontSize": 20, "labelPadding": 4, "titleFontSize": 20, "titleFontWeight": "bold", "titleColor": "#111111", "titlePadding": 14, "minExtent": 52, "maxExtent": 52},
 "axisBottom": {"tickSize": 9, "tickBand": "extent", "labelFontSize": 21, "labelPadding": 18, "labelAngle": 0},
 "axisTop": {"domain": false, "ticks": false, "labels": false, "titleFontSize": 21, "titleFontWeight": "normal", "titleColor": "#262626", "titleX": 171, "titleAlign": "center", "titleBaseline": "alphabetic", "titleAngle": 0, "titleLineHeight": 32},
 "title": {"anchor": "start", "frame": "bounds", "fontSize": 36, "fontWeight": "bold", "color": "#000000", "offset": 0, "font": "DejaVu Sans"}
}
}
